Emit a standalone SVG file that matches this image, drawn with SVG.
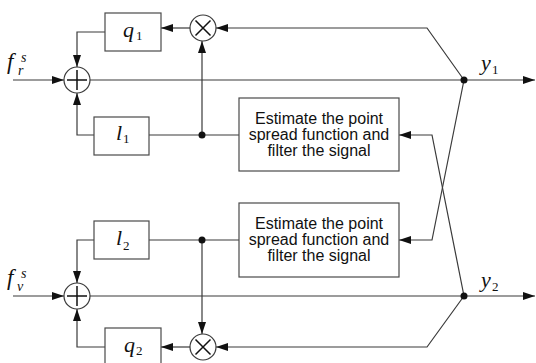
<svg xmlns="http://www.w3.org/2000/svg" width="536" height="363" viewBox="0 0 536 363">
<style>
.ln{fill:none;stroke:#3a3a3a;stroke-width:1.2}
.bx{fill:#fff;stroke:#4a4a4a;stroke-width:1.2}
.op{fill:#fff;stroke:#3a3a3a;stroke-width:1.2}
.sy{stroke:#111;stroke-width:1.5;fill:none}
.mt{font-family:"Liberation Serif","Times New Roman",serif;font-style:italic;fill:#111}
.sb{font-family:"Liberation Serif","Times New Roman",serif;fill:#111}
.tx{font-family:"Liberation Sans",Arial,sans-serif;font-size:16px;fill:#111;text-anchor:middle}
.dt{fill:#111}
</style>
<defs>
<marker id="ar" markerUnits="userSpaceOnUse" markerWidth="13" markerHeight="9" refX="12" refY="4" orient="auto">
<path d="M0,0 L12,4 L0,8 z" fill="#111"/>
</marker>
</defs>
<g id="connectors">
<path class="ln" d="M13,80 H64" marker-end="url(#ar)"/>
<path class="ln" d="M13,296 H64" marker-end="url(#ar)"/>
<path class="ln" d="M90,80 H535" marker-end="url(#ar)"/>
<path class="ln" d="M90,296 H535" marker-end="url(#ar)"/>
<path class="ln" d="M105,32 H77 V67" marker-end="url(#ar)"/>
<path class="ln" d="M94,135 H77 V93" marker-end="url(#ar)"/>
<path class="ln" d="M94,240 H77 V283" marker-end="url(#ar)"/>
<path class="ln" d="M105,347 H77 V309" marker-end="url(#ar)"/>
<path class="ln" d="M149,135 H239"/>
<path class="ln" d="M149,240 H239"/>
<path class="ln" d="M202,135 V41" marker-end="url(#ar)"/>
<path class="ln" d="M202,240 V334" marker-end="url(#ar)"/>
<path class="ln" d="M190,28 H161" marker-end="url(#ar)"/>
<path class="ln" d="M190,347 H161" marker-end="url(#ar)"/>
<path class="ln" d="M464,80 L427,28 H216" marker-end="url(#ar)"/>
<path class="ln" d="M464,296 L427,347 H216" marker-end="url(#ar)"/>
<path class="ln" d="M464,80 L432,240 H399" marker-end="url(#ar)"/>
<path class="ln" d="M464,296 L432,135 H399" marker-end="url(#ar)"/>
<circle class="dt" cx="202" cy="135" r="3.5"/>
<circle class="dt" cx="202" cy="240" r="3.5"/>
<circle class="dt" cx="464" cy="80" r="3.5"/>
<circle class="dt" cx="464" cy="296" r="3.5"/>
</g>
<g id="sum1">
<circle class="op" cx="77" cy="80" r="13"/>
<path class="sy" d="M67,80 H87 M77,70 V90"/>
</g>
<g id="sum2">
<circle class="op" cx="77" cy="296" r="13"/>
<path class="sy" d="M67,296 H87 M77,286 V306"/>
</g>
<g id="mul1">
<circle class="op" cx="203" cy="28" r="13"/>
<path class="sy" d="M195.5,20.5 L210.5,35.5 M210.5,20.5 L195.5,35.5"/>
</g>
<g id="mul2">
<circle class="op" cx="203" cy="347" r="13"/>
<path class="sy" d="M195.5,339.5 L210.5,354.5 M210.5,339.5 L195.5,354.5"/>
</g>
<g id="q1">
<rect class="bx" x="105" y="13" width="56" height="38"/>
<text class="mt" x="123" y="37" font-size="22">q</text>
<text class="sb" x="136" y="40" font-size="13">1</text>
</g>
<g id="l1">
<rect class="bx" x="94" y="117" width="55" height="38"/>
<text class="mt" x="116" y="140" font-size="22">l</text>
<text class="sb" x="123" y="143" font-size="13">1</text>
</g>
<g id="l2">
<rect class="bx" x="94" y="221" width="55" height="38"/>
<text class="mt" x="116" y="245" font-size="22">l</text>
<text class="sb" x="123" y="250" font-size="13">2</text>
</g>
<g id="q2">
<rect class="bx" x="105" y="328" width="56" height="40"/>
<text class="mt" x="124" y="352" font-size="22">q</text>
<text class="sb" x="136" y="355" font-size="13">2</text>
</g>
<g id="psf1">
<rect class="bx" x="239" y="98" width="160" height="73"/>
<text class="tx" x="319" y="124">Estimate the point</text>
<text class="tx" x="319" y="140">spread function and</text>
<text class="tx" x="319" y="156">filter the signal</text>
</g>
<g id="psf2">
<rect class="bx" x="239" y="203" width="160" height="74"/>
<text class="tx" x="319" y="229">Estimate the point</text>
<text class="tx" x="319" y="245">spread function and</text>
<text class="tx" x="319" y="261">filter the signal</text>
</g>
<g id="labels">
<text class="mt" x="7" y="69" font-size="23">f</text>
<text class="mt" x="21" y="62" font-size="14">s</text>
<text class="mt" x="18" y="75" font-size="14">r</text>
<text class="mt" x="7" y="285" font-size="23">f</text>
<text class="mt" x="21" y="278" font-size="14">s</text>
<text class="mt" x="17" y="291" font-size="14">v</text>
<text class="mt" x="481" y="70" font-size="22">y</text>
<text class="sb" x="492" y="74" font-size="13">1</text>
<text class="mt" x="481" y="287" font-size="22">y</text>
<text class="sb" x="492" y="291" font-size="13">2</text>
</g>
</svg>
